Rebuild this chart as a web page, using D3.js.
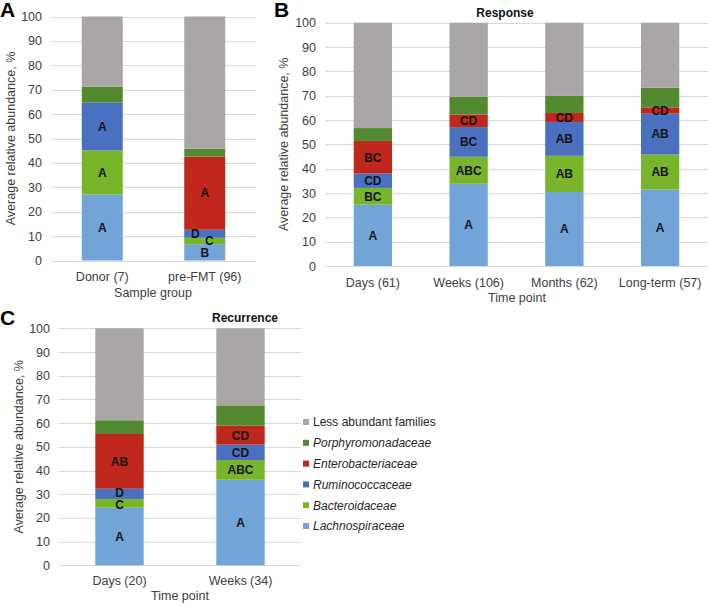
<!DOCTYPE html>
<html>
<head>
<meta charset="utf-8">
<script src="https://cdn.jsdelivr.net/npm/d3@7"></script>
<style>
  html, body { margin: 0; padding: 0; background: #fff; }
  svg { display: block; font-family: "Liberation Sans", Arial, sans-serif; }
</style>
</head>
<body>
<svg id="chart" width="709" height="606"></svg>
<script>
// ---- data ----
const families = ["Lachnospiraceae", "Bacteroidaceae", "Ruminococcaceae", "Enterobacteriaceae", "Porphyromonadaceae", "Less abundant families"];
const familyColors = ["#72A4D8", "#78B52A", "#4A70C0", "#C0271D", "#548A2F", "#A9A6A5"];
const yTicks = [0, 10, 20, 30, 40, 50, 60, 70, 80, 90, 100];

// Panel A
const catsA = ["Donor (7)", "pre-FMT (96)"];
const lachnoA = [27.0, 6.7];
const bacterA = [18.1, 2.6];
const ruminoA = [19.7, 3.3];
const enteroA = [0.0, 30.0];
const porphA = [6.5, 3.2];
const labelsA = [["A", "A", "A", "", "", ""], ["B", "C", "D", "A", "", ""]];

// Panel B (Response)
const catsB = ["Days (61)", "Weeks (106)", "Months (62)", "Long-term (57)"];
const lachnoB = [25.2, 33.8, 30.4, 31.4];
const bacterB = [6.9, 11.1, 14.9, 14.4];
const ruminoB = [5.9, 12.2, 13.9, 16.8];
const enteroB = [13.4, 5.2, 3.7, 2.6];
const porphB = [5.3, 7.2, 7.0, 8.1];
const labelsB = [["A", "BC", "CD", "BC", "", ""], ["A", "ABC", "BC", "CD", "", ""], ["A", "AB", "AB", "CD", "", ""], ["A", "AB", "AB", "CD", "", ""]];

// Panel C (Recurrence)
const catsC = ["Days (20)", "Weeks (34)"];
const lachnoC = [24.3, 36.1];
const bacterC = [3.7, 8.3];
const ruminoC = [4.3, 6.5];
const enteroC = [23.1, 8.0];
const porphC = [5.8, 8.6];
const labelsC = [["A", "C", "D", "AB", "", ""], ["A", "ABC", "CD", "CD", "", ""]];

// ---- drawing ----
const svg = d3.select("#chart");

function buildRows(cats, series, labels) {
  return cats.map((c, i) => {
    const vals = series.map(s => s[i]);
    const sum = d3.sum(vals);
    vals.push(100 - sum);
    const row = { cat: c };
    families.forEach((f, k) => row[f] = vals[k]);
    row.labels = labels[i];
    return row;
  });
}

function drawPanel(cfg) {
  const rows = buildRows(cfg.cats, cfg.series, cfg.labels);
  const x = d3.scaleBand().domain(cfg.cats).range([cfg.x0, cfg.x1]).paddingInner(cfg.pad).paddingOuter(cfg.pad / 2);
  const y = d3.scaleLinear().domain([0, 100]).range([cfg.yb, cfg.yt]);
  const g = svg.append("g");

  // gridlines
  g.append("g").selectAll("line").data(yTicks).join("line")
    .attr("x1", cfg.x0).attr("x2", cfg.x1)
    .attr("y1", d => Math.round(y(d)) + 0.5).attr("y2", d => Math.round(y(d)) + 0.5)
    .attr("stroke", "#d9d9d9").attr("stroke-width", 1);

  // y axis labels via d3 axis
  const yAxis = g.append("g").attr("transform", `translate(${cfg.x0},0)`)
    .call(d3.axisLeft(y).tickValues(yTicks).tickSize(0).tickPadding(9));
  yAxis.select(".domain").remove();
  yAxis.selectAll("text").attr("font-size", "12.5px").attr("fill", "#404040")
    .attr("font-family", "Liberation Sans, Arial, sans-serif");

  // stacked bars
  const stack = d3.stack().keys(families)(rows);
  stack.forEach((layer, k) => {
    g.append("g").selectAll("rect").data(layer.filter(d => d[1] - d[0] > 0)).join("rect")
      .attr("x", d => x(d.data.cat))
      .attr("width", x.bandwidth())
      .attr("y", d => y(d[1]))
      .attr("height", d => Math.max(0, y(d[0]) - y(d[1])))
      .attr("fill", familyColors[k]);
  });

  // labels
  rows.forEach((row, i) => {
    let prevY = null, prevNode = null;
    families.forEach((f, k) => {
      const txt = row.labels[k];
      if (!txt) return;
      const seg = stack[k][i];
      let cy = (y(seg[0]) + y(seg[1])) / 2;
      const node = g.append("text")
        .attr("x", x(row.cat) + x.bandwidth() / 2)
        .attr("y", cy)
        .attr("dy", "0.36em")
        .attr("text-anchor", "middle")
        .attr("font-size", "12px").attr("font-weight", "bold")
        .attr("fill", "#141414")
        .text(txt);
      if (prevY !== null) {
        const gap = prevY - cy;
        if (gap < 9) {
          prevNode.attr("x", +prevNode.attr("x") + 4.5);
          node.attr("x", +node.attr("x") - 9.5);
        } else if (gap < 11.5) {
          const s = (11.5 - gap) / 2;
          prevNode.attr("y", prevY + s);
          cy = cy - s;
          node.attr("y", cy);
        }
      }
      prevY = cy; prevNode = node;
    });
  });

  // x category labels
  const xAxis = g.append("g").attr("transform", `translate(0,${cfg.yb})`)
    .call(d3.axisBottom(x).tickSize(0).tickPadding(0));
  xAxis.select(".domain").remove();
  xAxis.selectAll("text").attr("font-size", "12.5px").attr("fill", "#404040")
    .attr("dy", null).attr("y", cfg.catDy)
    .attr("font-family", "Liberation Sans, Arial, sans-serif");

  // x title
  g.append("text").attr("x", cfg.xTitleX).attr("y", cfg.xTitleY)
    .attr("text-anchor", "middle").attr("font-size", "12.5px").attr("fill", "#404040")
    .text(cfg.xTitle);

  // y title
  g.append("text")
    .attr("transform", `translate(${cfg.yTitleX},${(cfg.yt + cfg.yb) / 2}) rotate(-90)`)
    .attr("text-anchor", "middle").attr("font-size", "12.5px").attr("fill", "#404040")
    .text("Average relative abundance, %");

  if (cfg.title) {
    g.append("text").attr("x", cfg.titleX).attr("y", cfg.titleY)
      .attr("text-anchor", "middle").attr("font-size", "12px").attr("font-weight", "bold")
      .attr("fill", "#111").text(cfg.title);
  }

  g.append("text").attr("x", cfg.letterX).attr("y", cfg.letterY)
    .attr("font-size", "21px").attr("font-weight", "bold").attr("fill", "#000")
    .text(cfg.letter);
}

drawPanel({
  cats: catsA, series: [lachnoA, bacterA, ruminoA, enteroA, porphA], labels: labelsA,
  x0: 51, x1: 256, yb: 260.5, yt: 16.5, pad: 0.6, catDy: 20.5,
  xTitle: "Sample group", xTitleX: 153, xTitleY: 297,
  yTitleX: 14.5, letter: "A", letterX: 0, letterY: 17
});

drawPanel({
  cats: catsB, series: [lachnoB, bacterB, ruminoB, enteroB, porphB], labels: labelsB,
  x0: 325, x1: 708, yb: 266, yt: 22.7, pad: 0.6, catDy: 20.5,
  xTitle: "Time point", xTitleX: 517, xTitleY: 302,
  yTitleX: 287.5, title: "Response", titleX: 505, titleY: 17,
  letter: "B", letterX: 274, letterY: 17
});

drawPanel({
  cats: catsC, series: [lachnoC, bacterC, ruminoC, enteroC, porphC], labels: labelsC,
  x0: 59, x1: 301, yb: 565.3, yt: 328.3, pad: 0.6, catDy: 20,
  xTitle: "Time point", xTitleX: 180, xTitleY: 600,
  yTitleX: 22.5, title: "Recurrence", titleX: 245, titleY: 322,
  letter: "C", letterX: 0, letterY: 325
});

// legend (reverse order, top = Less abundant)
const legendOrder = families.slice().reverse();
const legendColors = familyColors.slice().reverse();
const lg = svg.append("g");
lg.selectAll("rect").data(legendOrder).join("rect")
  .attr("x", 303).attr("y", (d, i) => 419 + i * 20.8)
  .attr("width", 6).attr("height", 6)
  .attr("fill", (d, i) => legendColors[i]);
lg.selectAll("text").data(legendOrder).join("text")
  .attr("x", 313).attr("y", (d, i) => 422 + i * 20.8)
  .attr("dy", "0.36em")
  .attr("font-size", "12px").attr("fill", "#262626")
  .attr("font-style", d => d === "Less abundant families" ? "normal" : "italic")
  .text(d => d);
</script>
</body>
</html>
